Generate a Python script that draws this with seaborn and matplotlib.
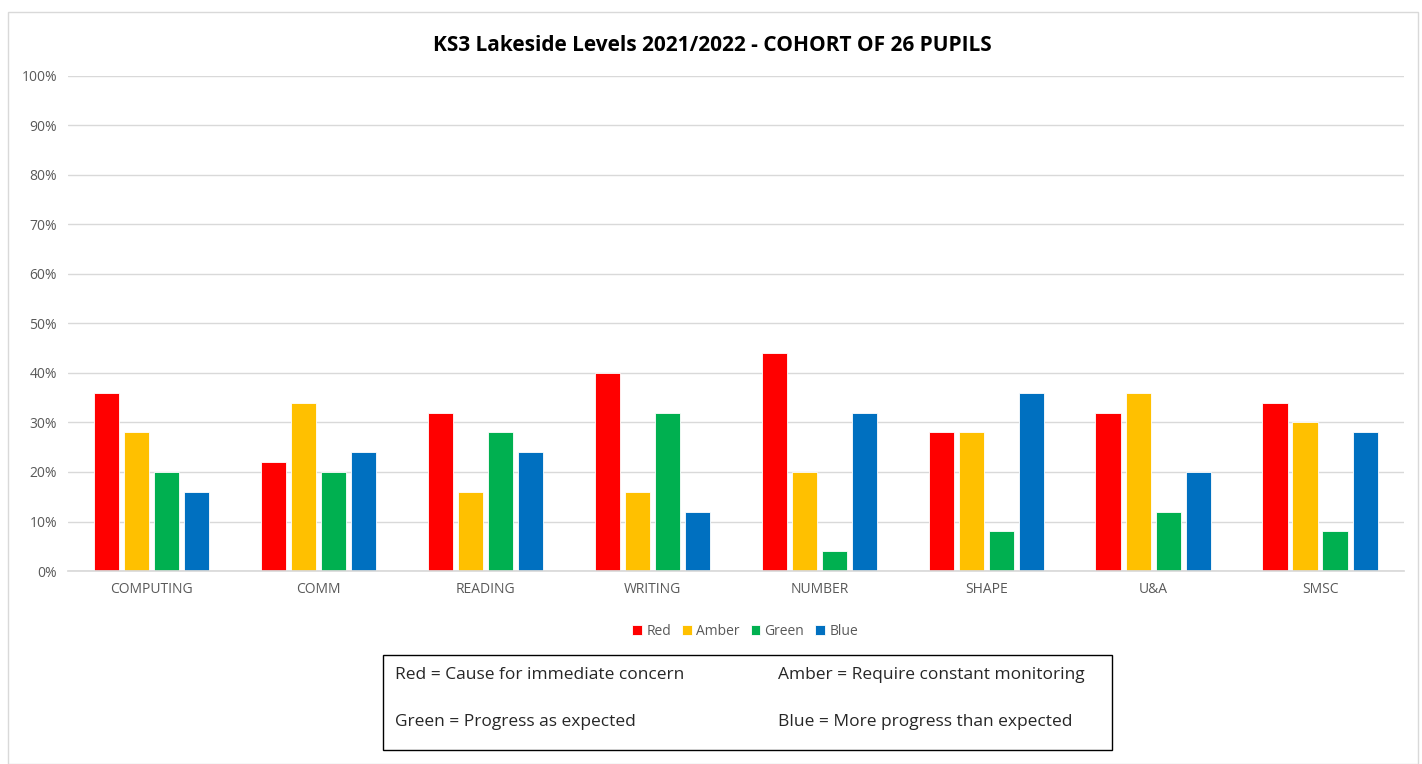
import matplotlib
matplotlib.use("Agg")
import matplotlib.pyplot as plt
import seaborn as sns
import pandas as pd
from matplotlib.patches import Rectangle
from matplotlib.ticker import PercentFormatter

subjects = ["COMPUTING", "COMM", "READING", "WRITING", "NUMBER", "SHAPE", "U&A", "SMSC"]
levels = ["Red", "Amber", "Green", "Blue"]
red = [36, 22, 32, 40, 44, 28, 32, 34]
amber = [28, 34, 16, 16, 20, 28, 36, 30]
green = [20, 20, 28, 32, 4, 8, 12, 8]
blue = [16, 24, 24, 12, 32, 36, 20, 28]
colors = ["#FF0000", "#FFC000", "#00B050", "#0070C0"]
title = "KS3 Lakeside Levels 2021/2022 - COHORT OF 26 PUPILS"
key_texts = ["Red = Cause for immediate concern", "Amber = Require constant monitoring",
             "Green = Progress as expected", "Blue = More progress than expected"]

rows = []
for lvl, vals in zip(levels, [red, amber, green, blue]):
    for s, v in zip(subjects, vals):
        rows.append({"Subject": s, "Level": lvl, "Value": v})
df = pd.DataFrame(rows)

sns.set_theme(style="white")
plt.rcParams['font.family'] = ['Open Sans', 'DejaVu Sans']

fig = plt.figure(figsize=(14.22, 7.64), dpi=100)
ax = fig.add_axes([0.048, 0.2526, 0.939, 0.648])
sns.barplot(data=df, x="Subject", y="Value", hue="Level", order=subjects, hue_order=levels,
            palette=colors, width=0.72, gap=0.16, ax=ax, errorbar=None,
            edgecolor="white", linewidth=0.6, saturation=1)
ax.set_ylim(0, 100)
ax.set_xlim(-0.5, 7.5)
ax.set_yticks(range(0, 101, 10))
ax.yaxis.set_major_formatter(PercentFormatter(decimals=0))
ax.grid(axis="y", color="#d9d9d9", linewidth=1)
ax.set_axisbelow(True)
for sp in ["top", "right", "left"]:
    ax.spines[sp].set_visible(False)
ax.spines["bottom"].set_color("#d9d9d9")
ax.set_xlabel("")
ax.set_ylabel("")
ax.tick_params(axis="both", length=0, labelsize=10, labelcolor="#595959", pad=8)
ax.tick_params(axis="x", pad=8)

leg = ax.legend(loc="upper center", bbox_to_anchor=(0.507, -0.082), ncol=4, frameon=False,
                fontsize=10, handlelength=0.7, handleheight=0.7, handletextpad=0.3,
                columnspacing=0.8)
for t in leg.get_texts():
    t.set_color("#595959")

fig.text(0.501, 0.941, title, ha="center", va="center", fontsize=15, fontweight="bold", color="black")

# key box
fig.patches.append(Rectangle((383/1422, 1-750/764), (1112-383)/1422, 95/764, transform=fig.transFigure,
                             fill=False, edgecolor="black", linewidth=1))
fig.text(395/1422, 1-675/764, key_texts[0], ha="left", va="center", fontsize=12.5)
fig.text(778/1422, 1-675/764, key_texts[1], ha="left", va="center", fontsize=12.5)
fig.text(395/1422, 1-722/764, key_texts[2], ha="left", va="center", fontsize=12.5)
fig.text(778/1422, 1-722/764, key_texts[3], ha="left", va="center", fontsize=12.5)

# outer chart border
fig.patches.append(Rectangle((8/1422, 0.0), (1418-8)/1422, 1-12/764, transform=fig.transFigure,
                             fill=False, edgecolor="#d9d9d9", linewidth=1))

fig.savefig("out.png", dpi=100)
